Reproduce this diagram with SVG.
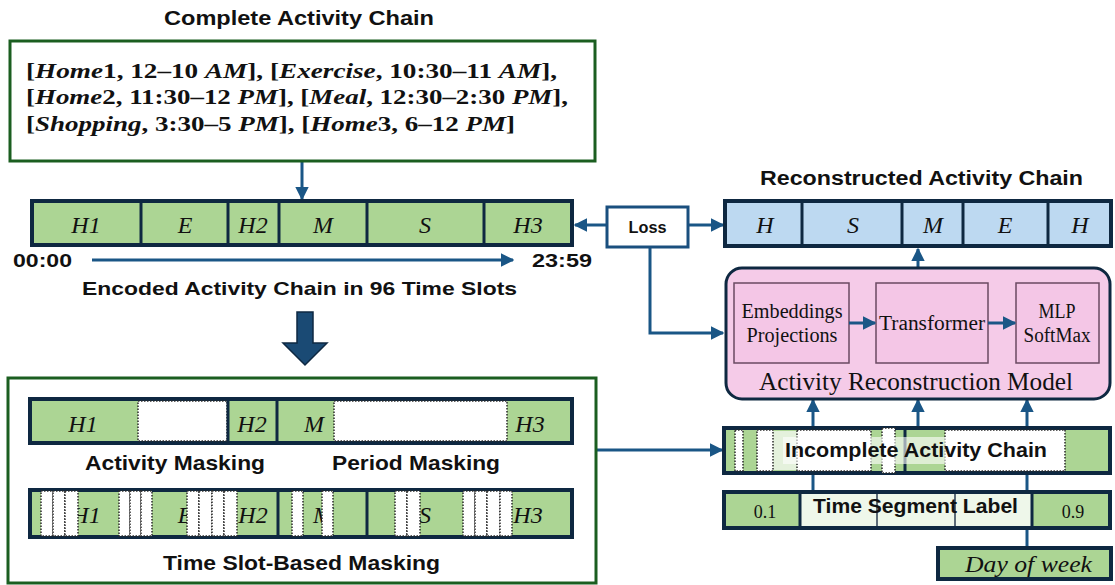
<svg xmlns="http://www.w3.org/2000/svg" width="1115" height="585" viewBox="0 0 1115 585">
<defs>
<style>
.sans{font-family:"Liberation Sans",Arial,sans-serif;font-weight:bold;fill:#111;}
.serif{font-family:"Liberation Serif","Times New Roman",serif;fill:#111;}
.ital{font-style:italic;}
.gbox{fill:#fff;stroke:#1b5e20;stroke-width:3;}
.bar{fill:#acd594;stroke:#0e2841;stroke-width:4;}
.blue{fill:#bdd9f1;stroke:#0e2841;stroke-width:4;}
.sep{stroke:#0e2841;stroke-width:3;}
.mask{fill:#fff;stroke:#2a2a2a;stroke-width:1.5;stroke-dasharray:1.5 1.5;}
.conn{fill:none;stroke:#1a5686;stroke-width:3;}
.inner{fill:#f4c6e6;stroke:#6a4a62;stroke-width:1.5;}
</style>
<marker id="ah" viewBox="0 0 10 10" refX="9" refY="5" markerWidth="4.6" markerHeight="4.6" orient="auto" markerUnits="strokeWidth">
<path d="M0,0 L10,5 L0,10 z" fill="#1a5686"/>
</marker>
</defs>
<rect width="1115" height="585" fill="#fff"/>

<g id="connectors">
<line class="conn" x1="302" y1="161" x2="302" y2="199" marker-end="url(#ah)"/>
<line class="conn" x1="92" y1="260" x2="513" y2="260" stroke-width="2.5" marker-end="url(#ah)"/>
<line class="conn" x1="607" y1="225" x2="575" y2="225" marker-end="url(#ah)"/>
<line class="conn" x1="688" y1="225" x2="723" y2="225" marker-end="url(#ah)"/>
<polyline class="conn" points="650,247 650,333 723,333" marker-end="url(#ah)"/>
<line class="conn" x1="918" y1="268" x2="918" y2="249" marker-end="url(#ah)"/>
<line class="conn" x1="596" y1="450" x2="722" y2="450" marker-end="url(#ah)"/>
<line class="conn" x1="813" y1="492" x2="813" y2="400" marker-end="url(#ah)"/>
<line class="conn" x1="918" y1="428" x2="918" y2="400" marker-end="url(#ah)"/>
<line class="conn" x1="1027" y1="548" x2="1027" y2="400" marker-end="url(#ah)"/>
<polygon points="297,312 313,312 313,343 327,343 305,365 283,343 297,343" fill="#1a4a74" stroke="#0e2841" stroke-width="1.5"/>
</g>

<g id="complete-chain">
<text class="sans" x="299" y="25" font-size="20" text-anchor="middle" textLength="270" lengthAdjust="spacingAndGlyphs">Complete Activity Chain</text>
<rect class="gbox" x="10" y="41" width="585" height="120"/>
<g class="serif" font-weight="bold" font-size="22">
<text x="26" y="78" textLength="531" lengthAdjust="spacingAndGlyphs">[<tspan class="ital">Home</tspan>1, 12–10 <tspan class="ital">AM</tspan>], [<tspan class="ital">Exercise</tspan>, 10:30–11 <tspan class="ital">AM</tspan>],</text>
<text x="26" y="104" textLength="542" lengthAdjust="spacingAndGlyphs">[<tspan class="ital">Home</tspan>2, 11:30–12 <tspan class="ital">PM</tspan>], [<tspan class="ital">Meal</tspan>, 12:30–2:30 <tspan class="ital">PM</tspan>],</text>
<text x="26" y="131" textLength="489" lengthAdjust="spacingAndGlyphs">[<tspan class="ital">Shopping</tspan>, 3:30–5 <tspan class="ital">PM</tspan>], [<tspan class="ital">Home</tspan>3, 6–12 <tspan class="ital">PM</tspan>]</text>
</g>
</g>

<g id="encoded-chain">
<rect class="bar" x="32" y="201" width="540" height="44"/>
<line class="sep" x1="141" y1="201" x2="141" y2="245"/>
<line class="sep" x1="228" y1="201" x2="228" y2="245"/>
<line class="sep" x1="279" y1="201" x2="279" y2="245"/>
<line class="sep" x1="367" y1="201" x2="367" y2="245"/>
<line class="sep" x1="484" y1="201" x2="484" y2="245"/>
<g class="serif ital" font-size="24" text-anchor="middle">
<text x="86" y="233">H1</text>
<text x="185" y="233">E</text>
<text x="253" y="233">H2</text>
<text x="323" y="233">M</text>
<text x="425" y="233">S</text>
<text x="528" y="233">H3</text>
</g>
<text class="sans" x="13" y="267" font-size="19" textLength="59" lengthAdjust="spacingAndGlyphs">00:00</text>
<text class="sans" x="532" y="267" font-size="19" textLength="60" lengthAdjust="spacingAndGlyphs">23:59</text>
<text class="sans" x="82" y="295" font-size="19" textLength="435" lengthAdjust="spacingAndGlyphs">Encoded Activity Chain in 96 Time Slots</text>
</g>

<g id="masking">
<rect class="gbox" x="8" y="378" width="588" height="205"/>
<rect class="bar" x="30" y="399" width="542" height="44"/>
<rect class="mask" x="138" y="401" width="89" height="40"/>
<rect class="mask" x="334" y="401" width="173" height="40"/>
<line class="sep" x1="228" y1="399" x2="228" y2="443"/>
<line class="sep" x1="277" y1="399" x2="277" y2="443"/>
<g class="serif ital" font-size="24" text-anchor="middle">
<text x="83" y="432">H1</text>
<text x="252" y="432">H2</text>
<text x="314" y="432">M</text>
<text x="530" y="432">H3</text>
</g>
<text class="sans" x="85" y="470" font-size="21" textLength="180" lengthAdjust="spacingAndGlyphs">Activity Masking</text>
<text class="sans" x="332" y="470" font-size="21" textLength="168" lengthAdjust="spacingAndGlyphs">Period Masking</text>

<rect class="bar" x="30" y="490" width="542" height="47"/>
<line class="sep" x1="278" y1="490" x2="278" y2="537"/>
<line class="sep" x1="367" y1="490" x2="367" y2="537"/>
<g class="serif ital" font-size="24" text-anchor="middle">
<text x="86" y="523">H1</text>
<text x="185" y="523">E</text>
<text x="253" y="523">H2</text>
<text x="323" y="523">M</text>
<text x="425" y="523">S</text>
<text x="528" y="523">H3</text>
</g>
<g>
<rect class="mask" x="41" y="491" width="12" height="45"/>
<rect class="mask" x="53" y="491" width="12" height="45"/>
<rect class="mask" x="65" y="491" width="13" height="45"/>
<rect class="mask" x="119" y="491" width="11" height="45"/>
<rect class="mask" x="130" y="491" width="11" height="45"/>
<rect class="mask" x="141" y="491" width="11" height="45"/>
<rect class="mask" x="187" y="491" width="12" height="45"/>
<rect class="mask" x="199" y="491" width="13" height="45"/>
<rect class="mask" x="212" y="491" width="12" height="45"/>
<rect class="mask" x="224" y="491" width="13" height="45"/>
<rect class="mask" x="292" y="491" width="11" height="45"/>
<rect class="mask" x="322" y="491" width="11" height="45"/>
<rect class="mask" x="395" y="491" width="12" height="45"/>
<rect class="mask" x="407" y="491" width="13" height="45"/>
<rect class="mask" x="463" y="491" width="12" height="45"/>
<rect class="mask" x="475" y="491" width="12" height="45"/>
<rect class="mask" x="487" y="491" width="13" height="45"/>
<rect class="mask" x="500" y="491" width="12" height="45"/>
</g>
<text class="sans" x="163" y="570" font-size="21" textLength="277" lengthAdjust="spacingAndGlyphs">Time Slot-Based Masking</text>
</g>

<g id="loss">
<rect x="607" y="207" width="81" height="40" fill="#fff" stroke="#1a4f7e" stroke-width="3"/>
<text class="sans" x="647.5" y="233" font-size="17" text-anchor="middle" textLength="38" lengthAdjust="spacingAndGlyphs">Loss</text>
</g>

<g id="reconstructed-chain">
<text class="sans" x="760" y="185" font-size="20" textLength="323" lengthAdjust="spacingAndGlyphs">Reconstructed Activity Chain</text>
<rect class="blue" x="725" y="201" width="386" height="45"/>
<line class="sep" x1="802" y1="201" x2="802" y2="246"/>
<line class="sep" x1="902" y1="201" x2="902" y2="246"/>
<line class="sep" x1="963" y1="201" x2="963" y2="246"/>
<line class="sep" x1="1048" y1="201" x2="1048" y2="246"/>
<g class="serif ital" font-size="24" text-anchor="middle">
<text x="765" y="233">H</text>
<text x="853" y="233">S</text>
<text x="933" y="233">M</text>
<text x="1005" y="233">E</text>
<text x="1080" y="233">H</text>
</g>
</g>

<g id="model">
<rect x="726" y="268" width="384" height="131" rx="16" ry="16" fill="#f5cbe8" stroke="#0e2841" stroke-width="3"/>
<rect class="inner" x="734" y="283" width="115" height="80"/>
<rect class="inner" x="876" y="283" width="112" height="80"/>
<rect class="inner" x="1016" y="283" width="83" height="80"/>
<line class="conn" x1="849" y1="323" x2="875" y2="323" marker-end="url(#ah)"/>
<line class="conn" x1="988" y1="323" x2="1015" y2="323" marker-end="url(#ah)"/>
<g class="serif" font-size="20" text-anchor="middle">
<text x="792" y="318" textLength="101" lengthAdjust="spacingAndGlyphs">Embeddings</text>
<text x="792" y="342" textLength="91" lengthAdjust="spacingAndGlyphs">Projections</text>
<text x="932" y="330" textLength="106" lengthAdjust="spacingAndGlyphs">Transformer</text>
<text x="1057" y="318" textLength="37" lengthAdjust="spacingAndGlyphs">MLP</text>
<text x="1057" y="342" textLength="67" lengthAdjust="spacingAndGlyphs">SoftMax</text>
</g>
<text class="serif" x="759" y="390" font-size="26" textLength="314" lengthAdjust="spacingAndGlyphs">Activity Reconstruction Model</text>
</g>

<g id="incomplete-chain">
<rect class="bar" x="724" y="428" width="386" height="45"/>
<line class="sep" x1="905" y1="428" x2="905" y2="473"/>
<rect x="773" y="431" width="24" height="39" fill="#e4f1dc"/>
<rect class="mask" x="735" y="430" width="8" height="41"/>
<rect class="mask" x="757" y="430" width="16" height="41"/>
<rect class="mask" x="797" y="430" width="74" height="41"/>
<rect class="mask" x="882" y="428" width="13" height="45"/>
<rect class="mask" x="945" y="430" width="120" height="41"/>
<rect x="783" y="437" width="266" height="27" fill="#fff" opacity="0.6"/>
<text class="sans" x="785" y="457" font-size="21" textLength="262" lengthAdjust="spacingAndGlyphs">Incomplete Activity Chain</text>
</g>

<g id="time-segment">
<rect class="bar" x="724" y="492" width="386" height="36"/>
<rect x="801" y="494" width="230" height="32" fill="#eef7ea"/>
<line x1="877" y1="494" x2="877" y2="526" stroke="#2a3d50" stroke-width="1.5"/>
<line x1="955" y1="494" x2="955" y2="526" stroke="#2a3d50" stroke-width="1.5"/>
<line class="sep" x1="800" y1="492" x2="800" y2="528"/>
<line class="sep" x1="1032" y1="492" x2="1032" y2="528"/>
<text class="serif" x="765" y="518" font-size="18" text-anchor="middle">0.1</text>
<text class="serif" x="1073" y="518" font-size="18" text-anchor="middle">0.9</text>
<text class="sans" x="813" y="513" font-size="20" textLength="205" lengthAdjust="spacingAndGlyphs">Time Segment Label</text>
</g>

<g id="day-of-week">
<rect class="bar" x="938" y="548" width="173" height="31"/>
<text class="serif ital" x="965" y="572" font-size="23" textLength="127" lengthAdjust="spacingAndGlyphs">Day of week</text>
</g>
</svg>
